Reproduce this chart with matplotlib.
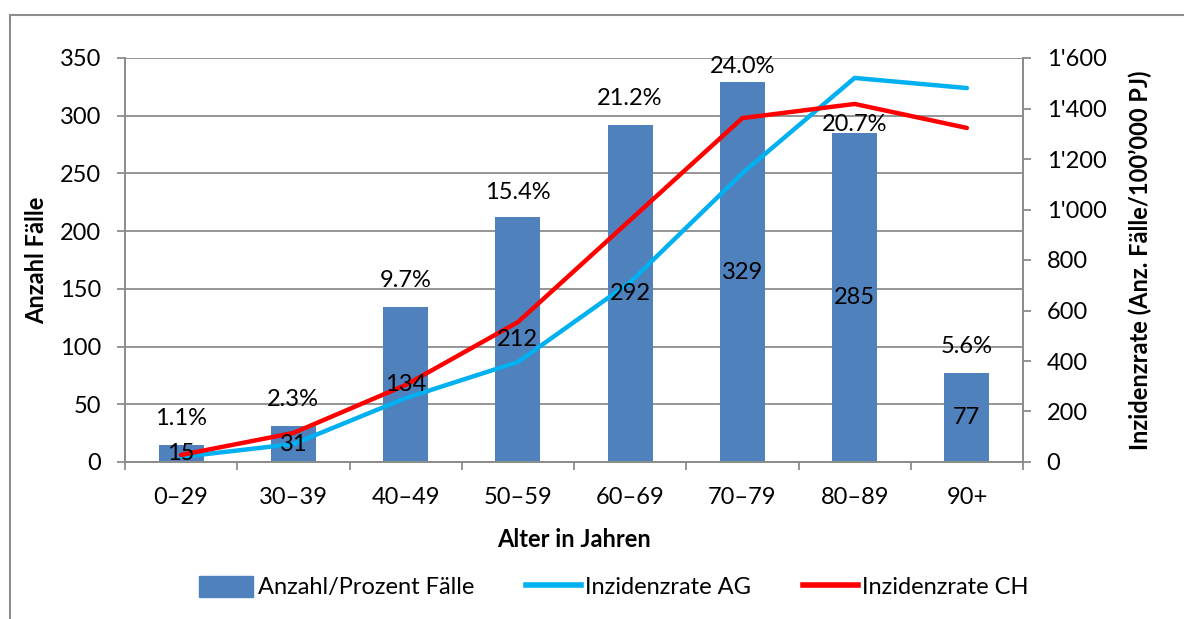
import matplotlib
matplotlib.use("Agg")
import matplotlib.pyplot as plt
from matplotlib.lines import Line2D
from matplotlib.patches import Patch
from matplotlib.ticker import FuncFormatter, MultipleLocator, FixedLocator

plt.rcParams['font.family'] = ['Lato', 'DejaVu Sans']

# Daten
altersgruppen = ['0–29', '30–39', '40–49', '50–59', '60–69', '70–79', '80–89', '90+']
anzahl_faelle = [15, 31, 134, 212, 292, 329, 285, 77]
prozent_faelle = [1.1, 2.3, 9.7, 15.4, 21.2, 24.0, 20.7, 5.6]
inzidenz_ag = [20, 71, 253, 396, 712, 1144, 1521, 1481]
inzidenz_ch = [28, 115, 305, 554, 958, 1362, 1418, 1323]

bar_farbe = '#4F81BD'
ag_farbe = '#00B0F0'
ch_farbe = '#FF0000'
grau = '#8C8C8C'
fs = 17

fig = plt.figure(figsize=(11.84, 6.19), dpi=100)
ax1 = fig.add_axes([125 / 1184, 1 - 462 / 619, 898 / 1184, 404 / 619])
ax2 = ax1.twinx()

x = list(range(len(altersgruppen)))

# Balken
ax1.bar(x, anzahl_faelle, width=0.4, color=bar_farbe, zorder=2)
ax1.set_ylim(0, 350)
ax1.set_xlim(-0.5, len(x) - 0.5)
ax1.yaxis.set_major_locator(MultipleLocator(50))
ax1.grid(axis='y', color=grau, linewidth=1.3, zorder=0)
ax1.set_axisbelow(True)

# Linien
ax2.plot(x, inzidenz_ag, color=ag_farbe, linewidth=3.2, solid_capstyle='round', zorder=3)
ax2.plot(x, inzidenz_ch, color=ch_farbe, linewidth=3.2, solid_capstyle='round', zorder=3)
ax2.set_ylim(0, 1600)
ax2.yaxis.set_major_locator(MultipleLocator(200))
ax2.yaxis.set_major_formatter(FuncFormatter(lambda v, p: f"{int(v):,}".replace(',', "'")))

# Beschriftungen (auf ax2, damit sie über den Linien liegen)
pct_offset = [19, 19, 19, 18, 19, 11, 6, 19]
for i in x:
    ax2.annotate(f"{anzahl_faelle[i]}", xy=(i, anzahl_faelle[i] / 2), xycoords=ax1.transData,
                 ha='center', va='center', fontsize=fs, zorder=5)
    ax2.annotate(f"{prozent_faelle[i]:.1f}%", xy=(i, anzahl_faelle[i]), xycoords=ax1.transData,
                 xytext=(0, pct_offset[i]), textcoords='offset points',
                 ha='center', va='center', fontsize=fs, zorder=5)

# Achsen
ax1.set_xticks(x)
ax1.set_xticklabels(altersgruppen, fontsize=fs)
ax1.xaxis.set_minor_locator(FixedLocator([i - 0.5 for i in range(len(x) + 1)]))
ax1.tick_params(axis='x', which='major', length=0, pad=18)
ax1.tick_params(axis='x', which='minor', length=6, color=grau, width=1.3)
ax1.tick_params(axis='y', length=6, color=grau, width=1.3, labelsize=fs, pad=11)
ax2.tick_params(axis='y', length=6, color=grau, width=1.3, labelsize=fs, pad=11)

for ax in (ax1, ax2):
    ax.spines['top'].set_visible(False)
    for s in ('left', 'right', 'bottom'):
        ax.spines[s].set_color(grau)
        ax.spines[s].set_linewidth(1.3)

ax1.set_xlabel('Alter in Jahren', fontsize=fs, fontweight='bold')
ax1.xaxis.set_label_coords(0.5, -0.163)
ax1.set_ylabel('Anzahl Fälle', fontsize=fs, fontweight='bold')
ax1.yaxis.set_label_coords(-0.086, 0.5)
ax2.set_ylabel('Inzidenzrate (Anz. Fälle/100’000 PJ)', fontsize=fs, fontweight='bold')
ax2.yaxis.set_label_coords(1.117, 0.5)

# Legende
handles = [Patch(color=bar_farbe),
           Line2D([0], [0], color=ag_farbe, linewidth=4),
           Line2D([0], [0], color=ch_farbe, linewidth=4)]
labels = ['Anzahl/Prozent Fälle', 'Inzidenzrate AG', 'Inzidenzrate CH']
fig.legend(handles, labels, loc='center', bbox_to_anchor=(614 / 1184, 1 - 587 / 619),
           ncol=3, frameon=False, fontsize=fs, handlelength=2.3, handleheight=1.0,
           handletextpad=0.2, columnspacing=2.2)

# Rahmen
fig.add_artist(Line2D([10 / 1184, 1], [1 - 15 / 619, 1 - 15 / 619], color=grau, linewidth=1.5))
fig.add_artist(Line2D([10 / 1184, 10 / 1184], [0, 1 - 15 / 619], color=grau, linewidth=1.5))

fig.savefig('out.png', dpi=100)
